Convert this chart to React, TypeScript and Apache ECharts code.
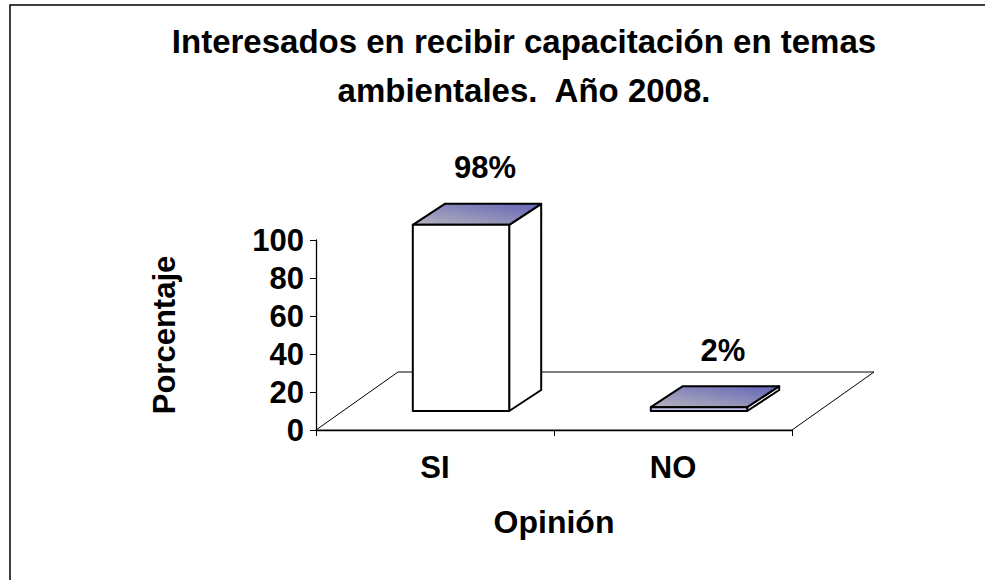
import React, { useEffect, useRef } from "react";
import * as echarts from "echarts";

const categories = ["SI", "NO"];
const values = [98, 2];
const valueLabels = ["98%", "2%"];
const yMin = 0;
const yMax = 100;
const yInterval = 20;
const titleLines = ["Interesados en recibir capacitación en temas", "ambientales.  Año 2008."];
const yAxisName = "Porcentaje";
const xAxisName = "Opinión";

const FONT = "'Liberation Sans', Arial, sans-serif";

export default function App() {
  const ref = useRef<HTMLDivElement>(null);
  useEffect(() => {
    if (!ref.current) return;
    const chart = echarts.init(ref.current, null, { renderer: "svg" });
    const floorDX = 82;
    const floorDY = -58;
    const barOX = 26;
    const barOY = -19;
    const barDX = 32;
    const barDY = -21;
    const topGradient = new echarts.graphic.LinearGradient(0, 1, 1, 0, [
      { offset: 0, color: "#b4b4bc" },
      { offset: 1, color: "#6464b8" },
    ]);
    const option: any = {
      animation: false,
      backgroundColor: "#ffffff",
      title: {
        text: titleLines.join("\n"),
        left: 519,
        top: 12,
        textAlign: "center",
        textStyle: { fontFamily: FONT, fontSize: 33, fontWeight: "bold", color: "#000", lineHeight: 49 },
      },
      graphic: [
        {
          type: "rect",
          shape: { x: 10, y: 5, width: 1000, height: 600 },
          style: { fill: "none", stroke: "#000", lineWidth: 1.5 },
          z: 100,
        },
      ],
      grid: { left: 316, right: 193, top: 240, bottom: 150, containLabel: false },
      xAxis: {
        type: "category",
        data: categories,
        name: xAxisName,
        nameLocation: "middle",
        nameGap: 76,
        nameTextStyle: { fontFamily: FONT, fontSize: 32, fontWeight: "bold", color: "#000" },
        axisLine: { show: true, lineStyle: { color: "#000", width: 1.3 } },
        axisTick: { show: true, alignWithLabel: false, length: 6, lineStyle: { color: "#000" } },
        axisLabel: { fontFamily: FONT, fontSize: 31, fontWeight: "bold", color: "#000", margin: 22 },
        splitLine: { show: false },
      },
      yAxis: {
        type: "value",
        min: yMin,
        max: yMax,
        interval: yInterval,
        name: yAxisName,
        nameLocation: "middle",
        nameRotate: 90,
        nameGap: 136,
        nameTextStyle: { fontFamily: FONT, fontSize: 31, fontWeight: "bold", color: "#000" },
        axisLine: { show: true, lineStyle: { color: "#000", width: 1.3 } },
        axisTick: { show: true, length: 6, lineStyle: { color: "#000" } },
        axisLabel: { fontFamily: FONT, fontSize: 31, fontWeight: "bold", color: "#000", margin: 12 },
        splitLine: { show: false },
      },
      series: [
        {
          type: "custom",
          name: "floor",
          data: [[0, 0]],
          z: 1,
          silent: true,
          renderItem: (params: any, api: any) => {
            const cs = params.coordSys;
            const x = cs.x;
            const yb = cs.y + cs.height;
            const w = cs.width;
            return {
              type: "polygon",
              shape: {
                points: [
                  [x, yb],
                  [x + w, yb],
                  [x + w + floorDX, yb + floorDY],
                  [x + floorDX, yb + floorDY],
                ],
              },
              style: { fill: "#fff", stroke: "#000", lineWidth: 1 },
            };
          },
        },
        {
          type: "custom",
          name: "bars",
          data: values.map((v, i) => [i, v]),
          z: 3,
          renderItem: (params: any, api: any) => {
            const i = api.value(0);
            const v = api.value(1);
            const base = api.coord([i, 0]);
            const top = api.coord([i, v]);
            const bw = api.size([1, 0])[0] * 0.405;
            const x0 = base[0] - bw / 2 + barOX;
            const yb = base[1] + barOY;
            const yt = top[1] + barOY;
            const stroke = { stroke: "#000", lineWidth: 2, lineJoin: "round" };
            return {
              type: "group",
              children: [
                {
                  type: "polygon",
                  shape: {
                    points: [
                      [x0 + bw, yt],
                      [x0 + bw + barDX, yt + barDY],
                      [x0 + bw + barDX, yb + barDY],
                      [x0 + bw, yb],
                    ],
                  },
                  style: { fill: "#ffffff", ...stroke },
                },
                {
                  type: "polygon",
                  shape: {
                    points: [
                      [x0, yt],
                      [x0 + barDX, yt + barDY],
                      [x0 + bw + barDX, yt + barDY],
                      [x0 + bw, yt],
                    ],
                  },
                  style: { fill: topGradient, ...stroke },
                },
                {
                  type: "rect",
                  shape: { x: x0, y: yt, width: bw, height: Math.max(yb - yt, 1) },
                  style: { fill: v < 10 ? "#c4c4f0" : "#ffffff", ...stroke },
                },
                {
                  type: "text",
                  style: {
                    x: x0 + bw / 2 + 24,
                    y: yt + barDY - 36,
                    text: valueLabels[i],
                    fill: "#000",
                    font: "bold 31px " + FONT,
                    align: "center",
                    verticalAlign: "middle",
                  },
                },
              ],
            };
          },
        },
      ],
    };
    chart.setOption(option);
    return () => chart.dispose();
  }, []);
  return (
    <div
      ref={ref}
      style={{ position: "fixed", left: 0, top: 0, width: 985, height: 580, background: "#fff" }}
    />
  );
}
